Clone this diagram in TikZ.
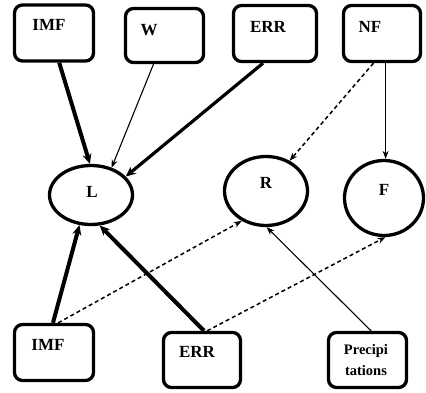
\documentclass[tikz,border=0pt]{standalone}
\usepackage{fontspec}
\setmainfont{Liberation Serif}
\usetikzlibrary{arrows.meta,shapes.geometric}

\begin{document}
\begin{tikzpicture}[x=1pt,y=-1pt]
\tikzstyle{every node}=[font=\fontsize{17}{20}\selectfont\bfseries]
\tikzstyle{box}=[draw, rectangle, rounded corners=8pt, line width=3.3pt, minimum width=79pt, minimum height=56pt, inner sep=0pt]
\tikzstyle{oval}=[draw, ellipse, line width=3.3pt, inner sep=0pt]
\tikzstyle{word}=[inner sep=0pt]
\tikzstyle{heavy}=[-{Stealth[length=10pt,width=9pt]}, line width=4pt]
\tikzstyle{light}=[-{Stealth[length=8pt,width=6pt]}, line width=1.1pt]
\tikzstyle{weak}=[-{Stealth[length=8pt,width=6pt]}, line width=1.5pt, dash pattern=on 4pt off 3pt]

\useasboundingbox (0,0) rectangle (426,393);

% Draw boxes (top row)
\node[box] (imfa) at (54,33) {};
\node[box, minimum width=78pt, minimum height=54pt] (w) at (164.5,35.5) {};
\node[box, minimum width=83pt] (erra) at (275,33.5) {};
\node[box, minimum width=77pt] (nf) at (382,33.5) {};

% Draw ellipses
\node[oval, minimum width=83pt, minimum height=59pt] (L) at (91,195) {};
\node[oval, minimum width=83pt, minimum height=69pt] (R) at (266,191) {};
\node[oval, minimum width=79pt, minimum height=75pt] (F) at (384,198) {};

% Draw boxes (bottom row)
\node[box] (imfb) at (54,352.5) {};
\node[box, minimum width=77pt, minimum height=55pt] (errb) at (202,360) {};
\node[box, minimum width=78pt, minimum height=55pt] (prec) at (367.5,360) {};

% Add labels
\node[word] (imfa-t) at (49,25) {IMF};
\node[word] (w-t) at (149,30) {W};
\node[word] (erra-t) at (268,27) {ERR};
\node[word] (nf-t) at (370,27) {NF};
\node[word] (L-t) at (92,192) {L};
\node[word] (R-t) at (266,183) {R};
\node[word] (F-t) at (384,190) {F};
\node[word] (imfb-t) at (48,345) {IMF};
\node[word] (errb-t) at (197,352) {ERR};
\node[word, font=\fontsize{14.5}{21}\selectfont\bfseries, align=center] (prec-t) at (366,360.5) {Precipi\\tations};

% Draw arrows into L
\draw[heavy] (imfa.-80) -- (L.92);
\draw[light] (w.-111) -- (L.53);
\draw[heavy, line width=3.2pt] (erra.-112) -- (L.28);
\draw[heavy] (imfb.92) -- (L.-111);
\draw[heavy] (errb.86) -- (L.-74);

% Draw arrows into R and F
\draw[weak] (nf.-106) -- (R.52);
\draw[light] (nf.-83) -- (nf.-83 |- F.north);
\draw[weak] (imfb.82) -- (R.-129);
\draw[weak] (errb.80) -- (F.-88);
\draw[light] (prec.83) -- (R.-89);

\end{tikzpicture}
\end{document}
